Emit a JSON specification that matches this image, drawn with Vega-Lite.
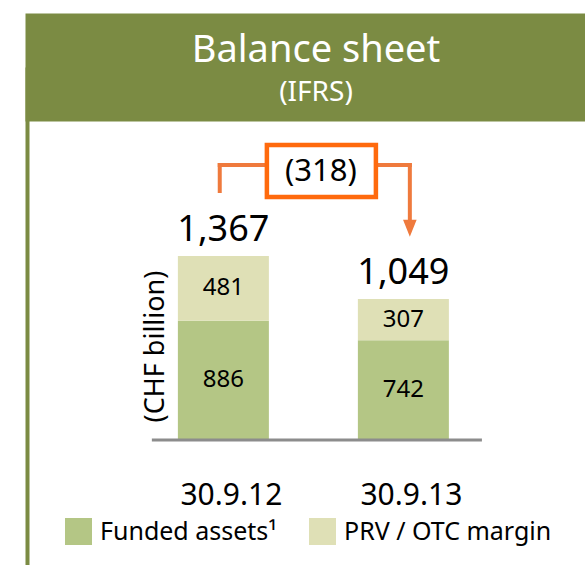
{
  "$schema": "https://vega.github.io/schema/vega-lite/v6.json",
  "width": 560,
  "height": 498,
  "autosize": {"type": "none"},
  "padding": {"left": 25, "top": 67, "right": 0, "bottom": 0},
  "background": "white",
  "config": {"view": {"stroke": null}, "font": "Noto Sans"},
  "title": {
    "text": "Balance sheet",
    "subtitle": "(IFRS)",
    "frame": "group",
    "anchor": "middle",
    "orient": "top",
    "offset": -40,
    "dx": 11,
    "color": "white",
    "fontSize": 38,
    "fontWeight": "normal",
    "font": "Noto Sans",
    "subtitleColor": "white",
    "subtitleFontSize": 28,
    "subtitleFont": "Noto Sans",
    "subtitlePadding": 9
  },
  "datasets": {
    "segments": [
      {"date": "30.9.12", "series": "Funded assets¹", "value": 886},
      {"date": "30.9.12", "series": "PRV / OTC margin", "value": 481},
      {"date": "30.9.13", "series": "Funded assets¹", "value": 742},
      {"date": "30.9.13", "series": "PRV / OTC margin", "value": 307}
    ],
    "totals": [
      {"date": "30.9.12", "total": 1367},
      {"date": "30.9.13", "total": 1049}
    ],
    "change": [
      {"from": "30.9.12", "to": "30.9.13", "change": -318}
    ]
  },
  "layer": [
    {
      "data": {"name": "segments"},
      "transform": [
        {"stack": "value", "groupby": ["date"], "sort": [{"field": "series", "order": "ascending"}], "as": ["v0", "v1"]}
      ],
      "mark": {"type": "bar"},
      "encoding": {
        "x": {
          "field": "date", "type": "nominal",
          "scale": {"paddingInner": 0.4944, "paddingOuter": 0.8028, "align": 0.529},
          "axis": {"orient": "bottom", "offset": -125, "domain": false, "ticks": false, "labelPadding": 40, "labelOffset": 8, "labelFontSize": 30, "labelColor": "black", "labelAngle": 0, "title": null, "labelFont": "Noto Sans", "grid": false}
        },
        "y": {
          "field": "v0", "type": "quantitative",
          "scale": {"domain": [-929.25, 2772.9], "nice": false, "zero": false},
          "axis": {"orient": "left", "offset": -2, "domain": true, "domainColor": "#7b8b43", "domainWidth": 4, "labels": false, "ticks": false, "grid": false, "title": "(CHF billion)", "titleX": 128, "titleY": 279, "titleAngle": -90, "titleAlign": "center", "titleBaseline": "middle", "titleFontSize": 27, "titleFontWeight": "normal", "titleColor": "black", "titleFont": "Noto Sans"}
        },
        "y2": {"field": "v1"},
        "color": {
          "field": "series", "type": "nominal",
          "scale": {"domain": ["Funded assets¹", "PRV / OTC margin"], "range": ["#b4c685", "#dfe0b6"]},
          "legend": {"orient": "none", "legendX": 40, "legendY": 451, "direction": "horizontal", "title": null, "symbolType": "square", "symbolSize": 729, "symbolStrokeWidth": 0, "symbolOpacity": 1, "labelFontSize": 25, "labelFont": "Noto Sans", "labelColor": "black", "labelOffset": 8, "columnPadding": 31, "padding": 0, "labelLimit": 400}
        }
      }
    },
    {
      "data": {"name": "segments"},
      "transform": [
        {"stack": "value", "groupby": ["date"], "sort": [{"field": "series", "order": "ascending"}], "as": ["v0", "v1"]},
        {"calculate": "(datum.v0 + datum.v1) / 2", "as": "mid"}
      ],
      "mark": {"type": "text", "fontSize": 24, "color": "black", "baseline": "middle", "font": "Noto Sans"},
      "encoding": {
        "x": {"field": "date", "type": "nominal", "axis": null},
        "y": {"field": "mid", "type": "quantitative", "axis": null},
        "text": {"field": "value", "type": "quantitative"}
      }
    },
    {
      "data": {"name": "totals"},
      "mark": {"type": "text", "fontSize": 36, "color": "black", "baseline": "alphabetic", "dy": -15, "font": "Noto Sans"},
      "encoding": {
        "x": {"field": "date", "type": "nominal", "axis": {"orient": "top", "domain": true, "domainColor": "#7b8b43", "domainWidth": 108, "labels": false, "ticks": false, "grid": false, "title": null}},
        "y": {"field": "total", "type": "quantitative", "axis": null},
        "text": {"field": "total", "type": "quantitative", "format": ",d"}
      }
    },
    {
      "data": {"name": "change"},
      "mark": {"type": "rule", "color": "#8c8c8c", "strokeWidth": 3},
      "encoding": {
        "x": {"field": "from", "type": "nominal", "bandPosition": -0.286, "axis": null},
        "x2": {"field": "to", "bandPosition": 1.363},
        "y": {"datum": 0, "type": "quantitative", "axis": null}
      }
    },
    {
      "data": {"name": "change"},
      "mark": {"type": "rule", "color": "#ef7a3d", "strokeWidth": 4, "strokeCap": "square"},
      "encoding": {
        "x": {"field": "from", "type": "nominal", "bandPosition": 0.46, "axis": null},
        "y": {"datum": 1851, "type": "quantitative", "axis": null},
        "y2": {"datum": 2044}
      }
    },
    {
      "data": {"name": "change"},
      "mark": {"type": "rule", "color": "#ef7a3d", "strokeWidth": 4, "strokeCap": "square"},
      "encoding": {
        "x": {"field": "from", "type": "nominal", "bandPosition": 0.46, "axis": null},
        "x2": {"field": "from", "bandPosition": 0.97},
        "y": {"datum": 2044, "type": "quantitative", "axis": null}
      }
    },
    {
      "data": {"name": "change"},
      "mark": {"type": "rule", "color": "#ef7a3d", "strokeWidth": 4, "strokeCap": "square"},
      "encoding": {
        "x": {"field": "to", "type": "nominal", "bandPosition": 0.2, "axis": null},
        "x2": {"field": "to", "bandPosition": 0.571},
        "y": {"datum": 2044, "type": "quantitative", "axis": null}
      }
    },
    {
      "data": {"name": "change"},
      "mark": {"type": "rule", "color": "#ef7a3d", "strokeWidth": 4, "strokeCap": "square"},
      "encoding": {
        "x": {"field": "to", "type": "nominal", "bandPosition": 0.571, "axis": null},
        "y": {"datum": 2044, "type": "quantitative", "axis": null},
        "y2": {"datum": 1621}
      }
    },
    {
      "data": {"name": "change"},
      "mark": {"type": "point", "shape": "M-0.8,-1L0.8,-1L0,1Z", "filled": true, "color": "#ef7a3d", "opacity": 1, "size": 289, "strokeWidth": 0},
      "encoding": {
        "x": {"field": "to", "type": "nominal", "bandPosition": 0.571, "axis": null},
        "y": {"datum": 1575, "type": "quantitative", "axis": null}
      }
    },
    {
      "data": {"name": "change"},
      "mark": {"type": "rect", "fill": "white", "stroke": "#ff6a0d", "strokeWidth": 4.5},
      "encoding": {
        "x": {"field": "from", "type": "nominal", "bandPosition": 0.978, "axis": null},
        "x2": {"field": "to", "bandPosition": 0.198},
        "y": {"datum": 2193, "type": "quantitative", "axis": null},
        "y2": {"datum": 1806}
      }
    },
    {
      "data": {"name": "change"},
      "mark": {"type": "text", "fontSize": 31, "color": "black", "baseline": "middle", "font": "Noto Sans"},
      "encoding": {
        "x": {"field": "from", "type": "nominal", "bandPosition": 1.571, "axis": null},
        "y": {"datum": 1992, "type": "quantitative", "axis": null},
        "text": {"field": "change", "type": "quantitative", "format": "(,.0f"}
      }
    }
  ],
  "resolve": {"axis": {"x": "independent", "y": "independent"}}
}
